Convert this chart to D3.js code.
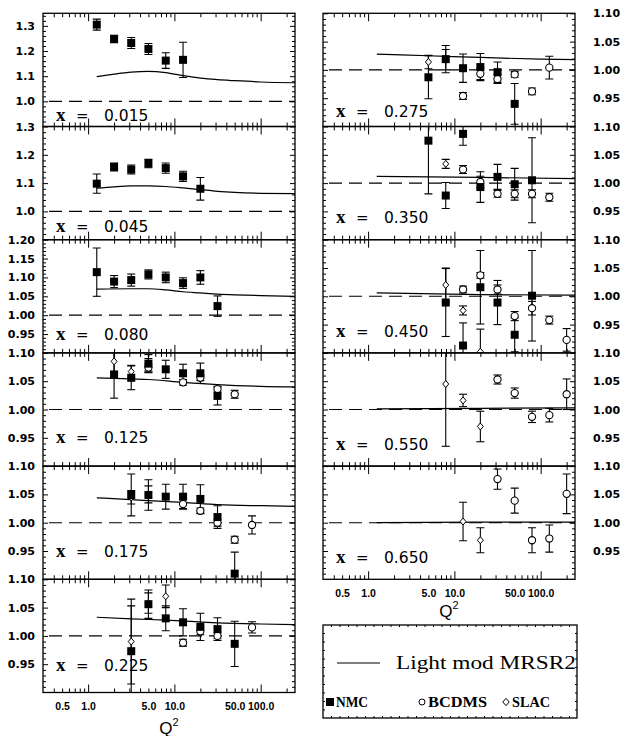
<!DOCTYPE html>
<html><head><meta charset="utf-8">
<title>Ratio vs Q2</title>
<script src="https://cdn.jsdelivr.net/npm/d3@7"></script>
<style>
body { margin: 0; background: #fff; }
</style>
</head>
<body>
<script>

// ---- data : [Q2, value, error] ----
var xValues = ["0.015", "0.045", "0.080", "0.125", "0.175", "0.225", "0.275", "0.350", "0.450", "0.550", "0.650"];
var yDomains = [[0.9, 1.35], [0.9, 1.3], [0.9, 1.2], [0.9, 1.1], [0.9, 1.1], [0.9, 1.1],
                [0.9, 1.1], [0.9, 1.1], [0.9, 1.1], [0.9, 1.1], [0.9, 1.1]];
var xTickLabels = [0.5, 1, 5, 10, 50, 100];

var nmc_015 = [[1.26, 1.305, 0.022], [2, 1.248, 0.015], [3.16, 1.232, 0.022], [5, 1.208, 0.022], [7.94, 1.162, 0.031], [12.6, 1.165, 0.07]];
var curve_015 = [[1.26, 1.098], [2, 1.108], [3.16, 1.116], [5, 1.119], [7.94, 1.114], [12.6, 1.102], [20, 1.092], [31.6, 1.086], [50, 1.082], [100, 1.077], [250, 1.074]];

var nmc_045 = [[1.26, 1.098, 0.034], [2, 1.157, 0.014], [3.16, 1.148, 0.016], [5, 1.169, 0.015], [7.94, 1.153, 0.018], [12.6, 1.124, 0.018], [20, 1.080, 0.04]];
var curve_045 = [[1.26, 1.082], [2, 1.087], [3.16, 1.090], [5, 1.090], [7.94, 1.088], [12.6, 1.083], [20, 1.077], [31.6, 1.071], [50, 1.067], [100, 1.064], [250, 1.063]];

var nmc_080 = [[1.26, 1.114, 0.064], [2, 1.089, 0.016], [3.16, 1.093, 0.016], [5, 1.108, 0.012], [7.94, 1.100, 0.014], [12.6, 1.085, 0.014], [20, 1.100, 0.018], [31.6, 1.024, 0.027]];
var curve_080 = [[1.26, 1.069], [3.16, 1.070], [5, 1.070], [7.94, 1.067], [12.6, 1.062], [20, 1.059], [31.6, 1.056], [50, 1.054], [100, 1.052], [250, 1.050]];

var nmc_125 = [[2, 1.062, 0.042], [3.16, 1.056, 0.021], [5, 1.081, 0.016], [7.94, 1.071, 0.016], [12.6, 1.064, 0.016], [20, 1.064, 0.018], [31.6, 1.024, 0.016]];
var bcdms_125 = [[5, 1.074, 0.006], [12.6, 1.048, 0.005], [20, 1.056, 0.005], [31.6, 1.036, 0.005], [50, 1.027, 0.007]];
var slac_125 = [[2, 1.085, 0.02], [3.16, 1.067, 0.011], [5, 1.078, 0.012]];
var curve_125 = [[1.26, 1.056], [3.16, 1.054], [5, 1.053], [12.6, 1.048], [31.6, 1.044], [100, 1.041], [250, 1.040]];

var nmc_175 = [[3.16, 1.049, 0.037], [5, 1.049, 0.027], [7.94, 1.046, 0.022], [12.6, 1.046, 0.022], [20, 1.042, 0.025], [31.6, 1.010, 0.02], [50, 0.91, 0.038]];
var bcdms_175 = [[12.6, 1.033, 0.008], [20, 1.021, 0.005], [31.6, 1.000, 0.006], [50, 0.970, 0.006], [79.4, 0.996, 0.016]];
var slac_175 = [[3.16, 1.045, 0.012], [5, 1.05, 0.015]];
var curve_175 = [[1.26, 1.044], [5, 1.039], [12.6, 1.036], [31.6, 1.032], [100, 1.030], [250, 1.029]];

var nmc_225 = [[3.16, 0.973, 0.08], [5, 1.056, 0.025], [7.94, 1.031, 0.022], [12.6, 1.024, 0.024], [20, 1.016, 0.024], [31.6, 1.012, 0.02], [50, 0.986, 0.04]];
var bcdms_225 = [[12.6, 0.988, 0.006], [20, 1.008, 0.006], [31.6, 1.000, 0.005], [79.4, 1.015, 0.01]];
var slac_225 = [[3.16, 0.99, 0.075], [5, 1.058, 0.018], [7.94, 1.07, 0.02]];
var curve_225 = [[1.26, 1.033], [3.16, 1.030], [7.94, 1.028], [31.6, 1.023], [100, 1.021], [250, 1.020]];

var nmc_275 = [[5, 0.987, 0.038], [7.94, 1.019, 0.024], [12.6, 1.003, 0.025], [20, 1.005, 0.024], [31.6, 0.996, 0.018], [50, 0.94, 0.036]];
var bcdms_275 = [[12.6, 0.954, 0.006], [20, 0.993, 0.01], [31.6, 0.984, 0.008], [50, 0.992, 0.005], [79.4, 0.962, 0.006], [126, 1.004, 0.02]];
var slac_275 = [[5, 1.014, 0.012], [7.94, 1.018, 0.018]];
var curve_275 = [[1.26, 1.028], [5, 1.025], [20, 1.022], [100, 1.019], [250, 1.018]];

var nmc_350 = [[5, 1.075, 0.094], [7.94, 0.978, 0.023], [12.6, 1.087, 0.02], [20, 0.993, 0.027], [31.6, 1.011, 0.022], [50, 0.998, 0.028], [79.4, 1.005, 0.075]];
var bcdms_350 = [[12.6, 1.024, 0.007], [20, 1.002, 0.01], [31.6, 0.981, 0.006], [50, 0.981, 0.007], [79.4, 0.981, 0.007], [126, 0.975, 0.007]];
var slac_350 = [[7.94, 1.034, 0.008]];
var curve_350 = [[1.26, 1.012], [20, 1.010], [250, 1.008]];

var nmc_450 = [[7.94, 0.989, 0.06], [12.6, 0.913, 0.04], [20, 1.016, 0.065], [31.6, 0.989, 0.039], [50, 0.932, 0.03], [79.4, 1.001, 0.08]];
var bcdms_450 = [[12.6, 1.012, 0.006], [20, 1.037, 0.005], [31.6, 1.012, 0.008], [50, 0.965, 0.008], [79.4, 0.979, 0.012], [126, 0.958, 0.007], [200, 0.923, 0.02]];
var slac_450 = [[7.94, 1.020, 0.03], [12.6, 0.975, 0.008], [20, 0.902, 0.04]];
var curve_450 = [[1.26, 1.006], [20, 1.003], [250, 1.002]];

var nmc_550 = [];
var bcdms_550 = [[31.6, 1.053, 0.008], [50, 1.029, 0.009], [79.4, 0.987, 0.01], [126, 0.990, 0.012], [200, 1.027, 0.027]];
var slac_550 = [[7.94, 1.045, 0.11], [12.6, 1.016, 0.011], [20, 0.970, 0.027]];
var curve_550 = [[1.26, 1.001], [20, 1.002], [250, 1.003]];

var nmc_650 = [];
var bcdms_650 = [[31.6, 1.077, 0.018], [50, 1.039, 0.022], [79.4, 0.969, 0.022], [126, 0.972, 0.024], [200, 1.051, 0.035]];
var slac_650 = [[12.6, 1.002, 0.034], [20, 0.969, 0.022]];
var curve_650 = [[1.26, 1.000], [20, 1.001], [250, 1.001]];

var nmcSets   = [nmc_015, nmc_045, nmc_080, nmc_125, nmc_175, nmc_225, nmc_275, nmc_350, nmc_450, nmc_550, nmc_650];
var bcdmsSets = [[], [], [], bcdms_125, bcdms_175, bcdms_225, bcdms_275, bcdms_350, bcdms_450, bcdms_550, bcdms_650];
var slacSets  = [[], [], [], slac_125, slac_175, slac_225, slac_275, slac_350, slac_450, slac_550, slac_650];
var curveSets = [curve_015, curve_045, curve_080, curve_125, curve_175, curve_225, curve_275, curve_350, curve_450, curve_550, curve_650];

// ---- layout ----
var width = 623, height = 736;
var PH = 113.2;          // panel height
var TOP = 13.3;
var labelLift = [6, 8, 13, 23, 22, 22, 10, 17, 16, 16, 16];   // "x = ..." baseline above panel bottom

var svg = d3.select("body").append("svg").attr("width", width).attr("height", height);
var defs = svg.append("defs");

var leftX = d3.scaleLog().domain([0.3, 250]).range([43, 295]);
var rightX = leftX.copy().range([323, 575]);

var majorX = [1, 10, 100];
var minorX = [];
[0.1, 1, 10, 100].forEach(function(d) {
	for (var k = 2; k <= 9; k++) {
		var v = k * d;
		if (v > 0.31 && v < 249) minorX.push(v);
	}
});

var tickFont = "'DejaVu Sans', sans-serif";

function noDomain(g) { g.select(".domain").remove(); }

function errBars(g, data, x, y) {
	var sel = g.selectAll(null).data(data).enter().append("g");
	sel.append("line")
		.attr("x1", function(d) { return x(d[0]); })
		.attr("x2", function(d) { return x(d[0]); })
		.attr("y1", function(d) { return y(d[1] - d[2]); })
		.attr("y2", function(d) { return y(d[1] + d[2]); });
	sel.append("line")
		.attr("x1", function(d) { return x(d[0]) - 4; })
		.attr("x2", function(d) { return x(d[0]) + 4; })
		.attr("y1", function(d) { return y(d[1] + d[2]); })
		.attr("y2", function(d) { return y(d[1] + d[2]); });
	sel.append("line")
		.attr("x1", function(d) { return x(d[0]) - 4; })
		.attr("x2", function(d) { return x(d[0]) + 4; })
		.attr("y1", function(d) { return y(d[1] - d[2]); })
		.attr("y2", function(d) { return y(d[1] - d[2]); });
	sel.selectAll("line").attr("stroke", "#000").attr("stroke-width", 1.1);
}

function diamond(cx, cy, s) {
	return "M" + cx + "," + (cy - s - 0.5) + "L" + (cx + s) + "," + cy + "L" + cx + "," + (cy + s + 0.5) + "L" + (cx - s) + "," + cy + "Z";
}

function drawPanel(i) {
	var col = i < 6 ? 0 : 1;
	var row = col ? i - 6 : i;
	var x = col ? rightX : leftX;
	var x0 = x.range()[0], x1 = x.range()[1];
	var top = TOP + row * PH, bottom = top + PH;
	var dom = yDomains[i];
	var y = d3.scaleLinear().domain(dom).range([bottom, top]);

	var step = dom[1] - dom[0] > 0.35 ? 0.1 : 0.05;
	var minorStep = step === 0.1 ? 0.02 : 0.01;
	var major = d3.range(dom[0] + step, dom[1] + 1e-6, step).map(function(v) { return +v.toFixed(3); });
	var minor = d3.range(dom[0] + minorStep, dom[1] - 1e-6, minorStep).map(function(v) { return +v.toFixed(3); })
		.filter(function(v) { return major.indexOf(v) < 0; });
	var fmt = step === 0.1 ? d3.format(".1f") : d3.format(".2f");

	var g = svg.append("g");

	defs.append("clipPath").attr("id", "clip" + i)
		.append("rect").attr("x", x0).attr("y", top).attr("width", x1 - x0).attr("height", PH);

	// y ticks, both sides, inward
	var yl = g.append("g").attr("transform", "translate(" + x0 + ",0)")
		.call(d3.axisLeft(y).tickValues(major).tickSize(-5).tickPadding(col ? 0 : 8).tickFormat(col ? "" : fmt));
	yl.call(noDomain);
	g.append("g").attr("transform", "translate(" + x0 + ",0)")
		.call(d3.axisLeft(y).tickValues(minor).tickSize(-3).tickFormat("")).call(noDomain);
	var yr = g.append("g").attr("transform", "translate(" + x1 + ",0)")
		.call(d3.axisRight(y).tickValues(major).tickSize(-5).tickPadding(18).tickFormat(col ? fmt : ""));
	yr.call(noDomain);
	g.append("g").attr("transform", "translate(" + x1 + ",0)")
		.call(d3.axisRight(y).tickValues(minor).tickSize(-3).tickFormat("")).call(noDomain);
	g.selectAll(".tick text").attr("font-family", tickFont).attr("font-weight", "bold")
		.attr("font-size", 11).attr("fill", "#000");

	// x ticks top and bottom, inward
	[[d3.axisBottom, bottom], [d3.axisTop, top]].forEach(function(a) {
		g.append("g").attr("transform", "translate(0," + a[1] + ")")
			.call(a[0](x).tickValues(majorX).tickSize(-8).tickFormat("")).call(noDomain);
		g.append("g").attr("transform", "translate(0," + a[1] + ")")
			.call(a[0](x).tickValues(minorX).tickSize(-4).tickFormat("")).call(noDomain);
	});
	g.selectAll(".tick line").attr("stroke", "#000").attr("stroke-width", 1);

	var plot = g.append("g").attr("clip-path", "url(#clip" + i + ")");

	// reference line at 1
	plot.append("line")
		.attr("x1", x0).attr("x2", x1)
		.attr("y1", y(1)).attr("y2", y(1))
		.attr("stroke", "#000").attr("stroke-width", 1.1)
		.attr("stroke-dasharray", "13,7").attr("stroke-dashoffset", -6);

	// model curve
	plot.append("path")
		.datum(curveSets[i])
		.attr("d", d3.line().x(function(d) { return x(d[0]); }).y(function(d) { return y(d[1]); }).curve(d3.curveMonotoneX))
		.attr("fill", "none").attr("stroke", "#000").attr("stroke-width", 1.2);

	errBars(plot, slacSets[i], x, y);
	errBars(plot, bcdmsSets[i], x, y);
	errBars(plot, nmcSets[i], x, y);

	plot.selectAll(null).data(slacSets[i]).enter().append("path")
		.attr("d", function(d) { return diamond(x(d[0]), y(d[1]), 3); })
		.attr("fill", "#fff").attr("stroke", "#000").attr("stroke-width", 1);
	plot.selectAll(null).data(bcdmsSets[i]).enter().append("circle")
		.attr("cx", function(d) { return x(d[0]); })
		.attr("cy", function(d) { return y(d[1]); })
		.attr("r", 3.6)
		.attr("fill", "#fff").attr("stroke", "#000").attr("stroke-width", 1.1);
	plot.selectAll(null).data(nmcSets[i]).enter().append("rect")
		.attr("x", function(d) { return x(d[0]) - 4; })
		.attr("y", function(d) { return y(d[1]) - 4; })
		.attr("width", 8).attr("height", 8)
		.attr("fill", "#000");

	// frame
	g.append("rect").attr("x", x0).attr("y", top).attr("width", x1 - x0).attr("height", PH)
		.attr("fill", "none").attr("stroke", "#000").attr("stroke-width", 1.3);

	// "x = value" label
	var by = bottom - labelLift[i];
	g.append("text").attr("x", x0 + 13).attr("y", by)
		.attr("font-family", "'Liberation Serif', serif").attr("font-weight", "bold").attr("font-size", 19)
		.text("x");
	g.append("text").attr("x", x0 + 33).attr("y", by)
		.attr("font-family", tickFont).attr("font-size", 15).text("=");
	g.append("text").attr("x", x0 + 61).attr("y", by)
		.attr("font-family", tickFont).attr("font-size", 15.5).text(xValues[i]);

	// bottom axis labels for the last panel in each column
	if (i === 5 || i === 10) {
		var ax = g.append("g").attr("transform", "translate(0," + bottom + ")")
			.call(d3.axisBottom(x).tickValues(xTickLabels).tickSize(0).tickPadding(10).tickFormat(d3.format(".1f")));
		ax.call(noDomain);
		ax.selectAll("text").attr("font-family", "'Liberation Sans', sans-serif").attr("font-weight", "bold")
			.attr("font-size", 10.5).attr("fill", "#000");
		var q = g.append("text").attr("x", (x0 + x1) / 2).attr("y", bottom + (col ? 38 : 41))
			.attr("text-anchor", "middle")
			.attr("font-family", "'Liberation Sans', sans-serif").attr("font-size", 17);
		q.append("tspan").text("Q");
		q.append("tspan").attr("font-size", 11).attr("dy", -8).text("2");
	}
}

for (var i = 0; i < xValues.length; i++) drawPanel(i);

// ---- legend ----
var lg = svg.append("g");
var lx0 = 323, lx1 = 577, ly0 = 625, ly1 = 718;
lg.append("rect").attr("x", lx0).attr("y", ly0).attr("width", lx1 - lx0).attr("height", ly1 - ly0)
	.attr("fill", "none").attr("stroke", "#000").attr("stroke-width", 1.3);
d3.range(lx0 + 8.5, lx1, 8.5).forEach(function(t) {
	lg.append("line").attr("x1", t).attr("x2", t).attr("y1", ly0).attr("y2", ly0 + 2).attr("stroke", "#000");
	lg.append("line").attr("x1", t).attr("x2", t).attr("y1", ly1).attr("y2", ly1 - 2).attr("stroke", "#000");
});
d3.range(ly0 + 8.5, ly1, 8.5).forEach(function(t) {
	lg.append("line").attr("x1", lx0).attr("x2", lx0 + 2).attr("y1", t).attr("y2", t).attr("stroke", "#000");
	lg.append("line").attr("x1", lx1).attr("x2", lx1 - 2).attr("y1", t).attr("y2", t).attr("stroke", "#000");
});
lg.append("line").attr("x1", 337).attr("x2", 380).attr("y1", 663).attr("y2", 663)
	.attr("stroke", "#000").attr("stroke-width", 1.1);
lg.append("text").attr("x", 396).attr("y", 669)
	.attr("font-family", "'Liberation Serif', serif").attr("font-size", 19.5)
	.attr("textLength", 180).attr("lengthAdjust", "spacingAndGlyphs")
	.text("Light mod MRSR2");

lg.append("rect").attr("x", 326).attr("y", 698).attr("width", 8).attr("height", 8).attr("fill", "#000");
lg.append("circle").attr("cx", 422).attr("cy", 702).attr("r", 3)
	.attr("fill", "#fff").attr("stroke", "#000");
lg.append("path").attr("d", diamond(506, 702, 3.2))
	.attr("fill", "#fff").attr("stroke", "#000");
[["NMC", 336, 32], ["BCDMS", 428, 59], ["SLAC", 512, 38]].forEach(function(t) {
	lg.append("text").attr("x", t[1]).attr("y", 707)
		.attr("font-family", "'Liberation Serif', serif").attr("font-weight", "bold").attr("font-size", 14)
		.attr("textLength", t[2]).attr("lengthAdjust", "spacingAndGlyphs")
		.text(t[0]);
});

</script>
</body></html>
